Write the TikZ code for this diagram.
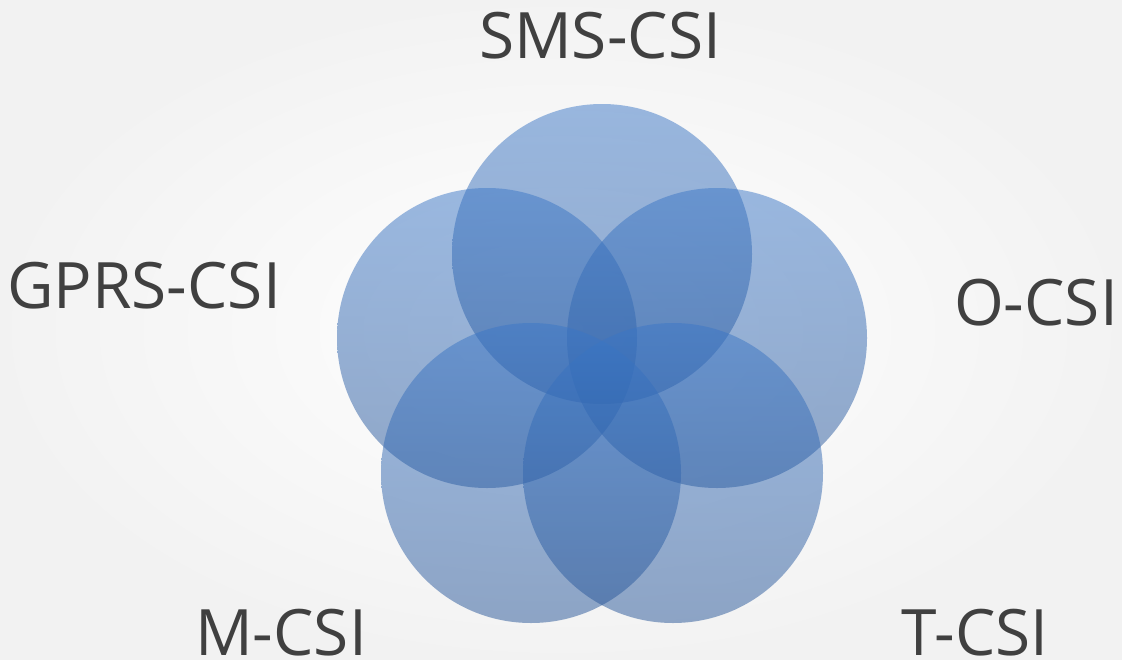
\documentclass[tikz,border=0pt]{standalone}
\usepackage{fontspec}
\setmainfont{Open Sans}
\definecolor{txt}{HTML}{404040}
\definecolor{ctop}{RGB}{59,119,199}
\definecolor{cbot}{RGB}{39,85,151}
\begin{document}
\begin{tikzpicture}[x=1pt,y=-1pt,
  circ/.style={circle, minimum size=300pt, inner sep=0pt, draw=none,
    top color=ctop, bottom color=cbot, fill opacity=0.5},
  lbl/.style={anchor=base, inner sep=0pt, text=txt, font=\fontsize{64}{64}\selectfont}]
\shade[inner color=white, outer color=black!5] (0,0) rectangle (1122,659);
\useasboundingbox (0,0) rectangle (1122,659);
\node[circ] (sms) at (602,254) {};
\node[circ] (gprs) at (487,338) {};
\node[circ] (o) at (717,338) {};
\node[circ] (m) at (531,473) {};
\node[circ] (t) at (673,473) {};
\node[lbl] (lsms) at (600,58) {SMS-CSI};
\node[lbl] (lgprs) at (144,308) {GPRS-CSI};
\node[lbl] (lo) at (1036,325) {O-CSI};
\node[lbl] (lm) at (281,655) {M-CSI};
\node[lbl] (lt) at (975,655) {T-CSI};
\end{tikzpicture}
\end{document}
